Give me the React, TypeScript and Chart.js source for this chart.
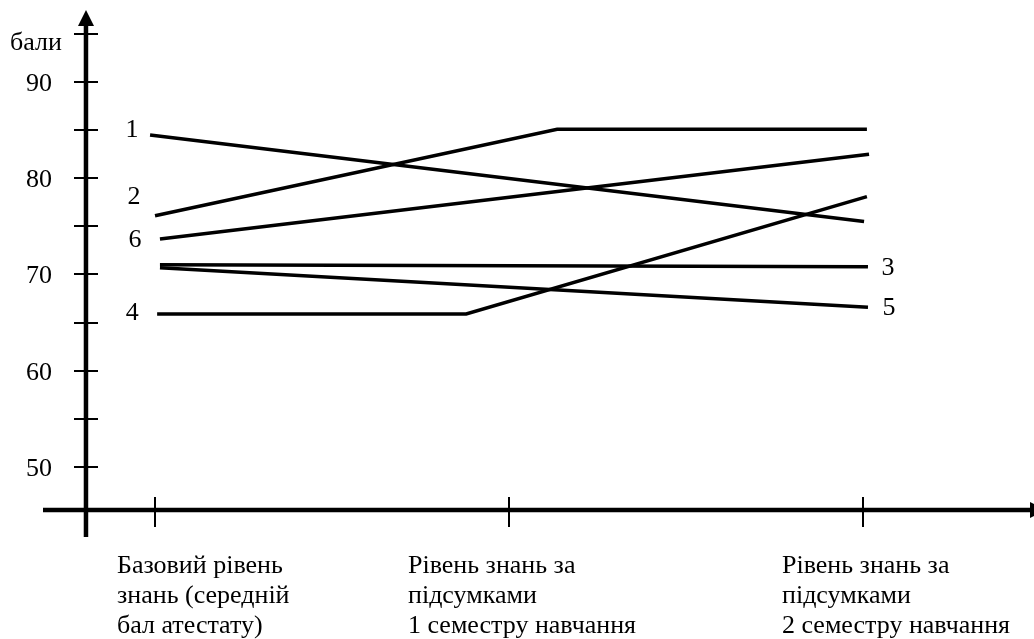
import React, { useEffect, useRef } from "react";
import { Chart, registerables } from "chart.js";

Chart.register(...registerables);

// ---- data ----
const categoryLabels: string[][] = [
  ["Базовий рівень", "знань (середній", "бал атестату)"],
  ["Рівень знань за", "підсумками", "1 семестру навчання"],
  ["Рівень знань за", "підсумками", "2 семестру навчання"],
];
const categoryX = [0, 1, 2];

const seriesNames = ["1", "2", "3", "4", "5", "6"];
const series1X = [-0.014, 2.003];
const series1Y = [84.5, 75.5];
const series2X = [0, 1.136, 2.011];
const series2Y = [76.1, 85.1, 85.1];
const series3X = [0.014, 2.014];
const series3Y = [71.0, 70.8];
const series4X = [0.006, 0.879, 2.011];
const series4Y = [65.9, 65.9, 78.1];
const series5X = [0.014, 2.014];
const series5Y = [70.7, 66.6];
const series6X = [0.014, 2.017];
const series6Y = [73.7, 82.5];

const yTickValues = [50, 55, 60, 65, 70, 75, 80, 85, 90, 95];
const yTickLabels = ["50", "", "60", "", "70", "", "80", "", "90", ""];
const yAxisTitle = "бали";

// ---- layout / style (not data) ----
const FONT = '26px "Liberation Serif", "Times New Roman", serif';
const seriesLabelAnchor = ["start", "start", "end", "start", "end", "start"];
const seriesLabelOffset: [number, number][] = [
  [-18, -5],
  [-21, -19],
  [20, 1],
  [-25, -1],
  [21, 1],
  [-25, 1],
];
const categoryLabelDx = [-38, -101, -81];

const xs = [series1X, series2X, series3X, series4X, series5X, series6X];
const ys = [series1Y, series2Y, series3Y, series4Y, series5Y, series6Y];

const axesPlugin = {
  id: "handAxes",
  afterDraw(chart: any) {
    const ctx = chart.ctx as CanvasRenderingContext2D;
    const xS = chart.scales.x;
    const yS = chart.scales.y;
    const area = chart.chartArea;
    const axisX = xS.getPixelForValue(-0.195);
    const axisY = yS.getPixelForValue(45.52);
    ctx.save();
    ctx.strokeStyle = "#000";
    ctx.fillStyle = "#000";

    // y axis
    ctx.lineWidth = 4.5;
    ctx.beginPath();
    ctx.moveTo(axisX, area.bottom);
    ctx.lineTo(axisX, area.top + 14);
    ctx.stroke();
    ctx.beginPath();
    ctx.moveTo(axisX, area.top);
    ctx.lineTo(axisX - 8, area.top + 16);
    ctx.lineTo(axisX + 8, area.top + 16);
    ctx.closePath();
    ctx.fill();

    // x axis
    ctx.beginPath();
    ctx.moveTo(area.left, axisY);
    ctx.lineTo(area.right - 4, axisY);
    ctx.stroke();
    ctx.beginPath();
    ctx.moveTo(area.right - 4, axisY - 8);
    ctx.lineTo(area.right + 12, axisY);
    ctx.lineTo(area.right - 4, axisY + 8);
    ctx.closePath();
    ctx.fill();

    // y ticks
    ctx.lineWidth = 2;
    ctx.font = FONT;
    ctx.textAlign = "right";
    ctx.textBaseline = "middle";
    yTickValues.forEach((v, i) => {
      const py = Math.round(yS.getPixelForValue(v));
      ctx.beginPath();
      ctx.moveTo(axisX - 12, py);
      ctx.lineTo(axisX + 12, py);
      ctx.stroke();
      if (yTickLabels[i]) ctx.fillText(yTickLabels[i], axisX - 34, py + 2);
    });
    ctx.fillText(yAxisTitle, axisX - 24, yS.getPixelForValue(95) + 9);

    // x ticks and category labels
    ctx.textAlign = "left";
    ctx.textBaseline = "alphabetic";
    categoryX.forEach((v, i) => {
      const px = Math.round(xS.getPixelForValue(v));
      ctx.beginPath();
      ctx.moveTo(px, axisY - 13);
      ctx.lineTo(px, axisY + 17);
      ctx.stroke();
      categoryLabels[i].forEach((line, j) => {
        ctx.fillText(line, px + categoryLabelDx[i], 573 + j * 30);
      });
    });

    // series labels
    ctx.textAlign = "center";
    ctx.textBaseline = "middle";
    seriesNames.forEach((name, i) => {
      const idx = seriesLabelAnchor[i] === "start" ? 0 : xs[i].length - 1;
      const px = xS.getPixelForValue(xs[i][idx]);
      const py = yS.getPixelForValue(ys[i][idx]);
      ctx.fillText(name, px + seriesLabelOffset[i][0], py + seriesLabelOffset[i][1]);
    });
    ctx.restore();
  },
};

export default function App() {
  const ref = useRef<HTMLCanvasElement | null>(null);
  useEffect(() => {
    if (!ref.current) return;
    const chart = new Chart(ref.current, {
      type: "scatter",
      data: {
        datasets: seriesNames.map((name, i) => ({
          label: name,
          data: xs[i].map((x, k) => ({ x, y: ys[i][k] })),
          showLine: true,
          borderColor: "#000",
          backgroundColor: "#000",
          borderWidth: 3.5,
          pointRadius: 0,
          tension: 0,
          clip: false as any,
        })),
      },
      options: {
        animation: false,
        responsive: false,
        devicePixelRatio: 1,
        layout: { padding: { left: 43, right: 0, top: 10, bottom: 102 } },
        plugins: { legend: { display: false }, tooltip: { enabled: false } },
        events: [],
        scales: {
          x: { type: "linear", display: false, min: -0.3164, max: 2.483 },
          y: { type: "linear", display: false, min: 42.71, max: 97.495 },
        },
      },
      plugins: [axesPlugin],
    });
    return () => chart.destroy();
  }, []);
  return (
    <div style={{ position: "absolute", left: 0, top: 0, width: 1034, height: 639, background: "#fff" }}>
      <canvas ref={ref} width={1034} height={639} />
    </div>
  );
}
